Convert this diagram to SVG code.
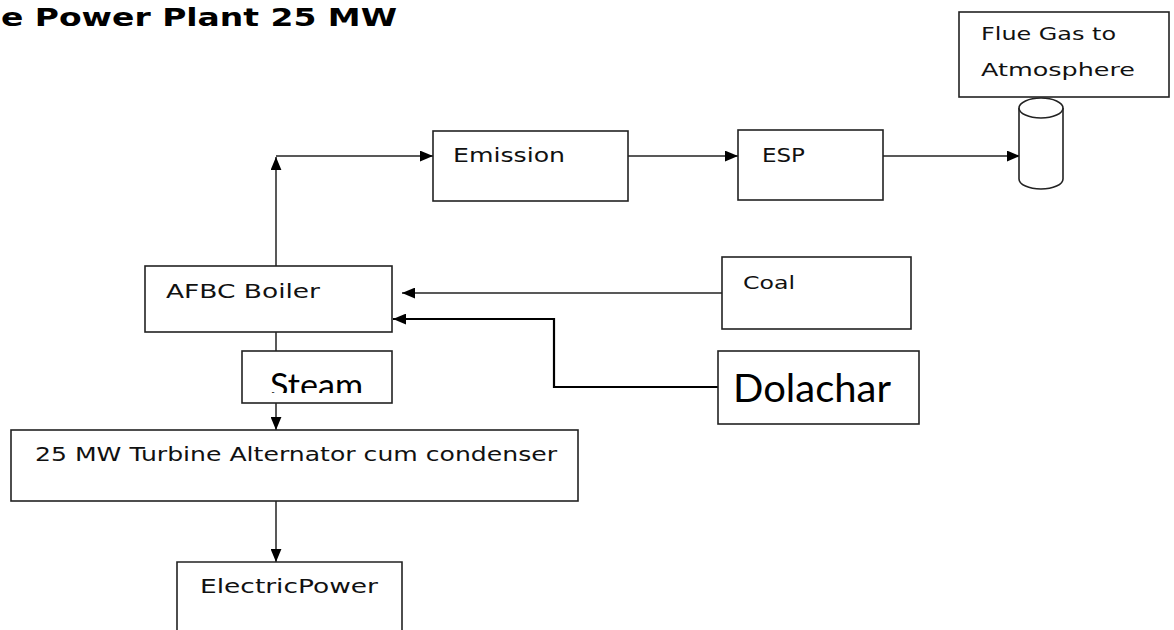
<svg xmlns="http://www.w3.org/2000/svg" width="1174" height="630" viewBox="0 0 1174 630">
<style>
.box{fill:#fff;stroke:#222;stroke-width:1.6}
.t{font-family:"DejaVu Sans",Verdana,sans-serif;fill:#111}
.big{font-family:Lato,"Open Sans",sans-serif;fill:#000}
.ln{fill:none;stroke:#222;stroke-width:1.5}
.thick{fill:none;stroke:#000;stroke-width:2.2}
</style>
<defs>
<marker id="ah" viewBox="0 0 12 10" refX="12" refY="5" markerWidth="13" markerHeight="11" markerUnits="userSpaceOnUse" orient="auto">
<path d="M0,0 L12,5 L0,10 z" fill="#000"/>
</marker>
<clipPath id="steamclip"><rect x="242" y="351" width="150" height="42"/></clipPath>
</defs>
<rect width="1174" height="630" fill="#fff"/>
<text x="1" y="26" font-family="'DejaVu Sans',Verdana,sans-serif" font-weight="bold" font-size="24" textLength="396" lengthAdjust="spacingAndGlyphs" fill="#000">e Power Plant 25 MW</text>
<g id="connectors">
<path class="ln" d="M276,266 V157" marker-end="url(#ah)"/>
<path class="ln" d="M276,156 H433" marker-end="url(#ah)"/>
<path class="ln" d="M628,156 H738" marker-end="url(#ah)"/>
<path class="ln" d="M883,156 H1020" marker-end="url(#ah)"/>
<path class="ln" d="M722,293 H402" marker-end="url(#ah)"/>
<path class="thick" d="M718,387 H554 V319 H393" marker-end="url(#ah)"/>
<path class="ln" d="M276,332 V351"/>
<path class="ln" d="M276,403 V430" marker-end="url(#ah)"/>
<path class="ln" d="M276,501 V562" marker-end="url(#ah)"/>
</g>
<g id="flue">
<rect class="box" x="959" y="12" width="210" height="85"/>
<text class="t" x="981" y="40" font-size="17" textLength="135" lengthAdjust="spacingAndGlyphs">Flue Gas to</text>
<text class="t" x="981" y="76" font-size="17" textLength="154" lengthAdjust="spacingAndGlyphs">Atmosphere</text>
</g>
<g id="stack">
<path class="box" d="M1019,108 V179 A22,10 0 0 0 1063,179 V108"/>
<ellipse class="box" cx="1041" cy="108" rx="22" ry="10"/>
</g>
<g id="emission">
<rect class="box" x="433" y="131" width="195" height="70"/>
<text class="t" x="453" y="162" font-size="20" textLength="112" lengthAdjust="spacingAndGlyphs">Emission</text>
</g>
<g id="esp">
<rect class="box" x="738" y="130" width="145" height="70"/>
<text class="t" x="762" y="162" font-size="20" textLength="43" lengthAdjust="spacingAndGlyphs">ESP</text>
</g>
<g id="boiler">
<rect class="box" x="145" y="266" width="247" height="66"/>
<text class="t" x="166" y="298" font-size="20" textLength="154" lengthAdjust="spacingAndGlyphs">AFBC Boiler</text>
</g>
<g id="coal">
<rect class="box" x="722" y="257" width="189" height="72"/>
<text class="t" x="743" y="289" font-size="17" textLength="52" lengthAdjust="spacingAndGlyphs">Coal</text>
</g>
<g id="dolachar">
<rect class="box" x="718" y="351" width="201" height="73"/>
<text class="big" x="733" y="402" font-size="39" textLength="158" lengthAdjust="spacingAndGlyphs">Dolachar</text>
</g>
<g id="steam">
<rect class="box" x="242" y="351" width="150" height="52"/>
<text class="big" x="270" y="397" font-size="33" textLength="93" lengthAdjust="spacingAndGlyphs" clip-path="url(#steamclip)">Steam</text>
</g>
<g id="turbine">
<rect class="box" x="11" y="430" width="567" height="71"/>
<text class="t" x="35" y="461" font-size="19" textLength="522" lengthAdjust="spacingAndGlyphs">25 MW Turbine Alternator cum condenser</text>
</g>
<g id="electric">
<path class="box" d="M177,640 V562 H402 V640"/>
<text class="t" x="200" y="593" font-size="19" textLength="178" lengthAdjust="spacingAndGlyphs">ElectricPower</text>
</g>
</svg>
